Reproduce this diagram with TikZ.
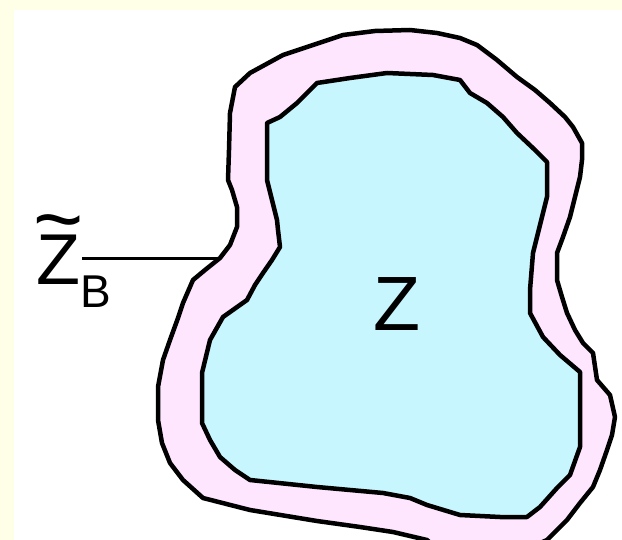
\documentclass[tikz,border=0pt]{standalone}
\usepackage{fontspec}
\setmainfont{Liberation Sans}
\definecolor{bgyellow}{RGB}{255,255,232}
\definecolor{bandpink}{RGB}{255,230,255}
\definecolor{zcyan}{RGB}{200,246,254}

\tikzset{%
  outer band/.style={
    draw=black,
    fill=bandpink,
    line width=4.5pt,
    line join=round
  },
  inner region/.style={
    draw=black,
    fill=zcyan,
    line width=4.5pt,
    line join=round
  },
  leader/.style={
    draw=black,
    line width=3pt
  },
}

\begin{document}
\begin{tikzpicture}[x=1pt,y=-1pt]
  \useasboundingbox (0,0) rectangle (622,540);
  \fill [bgyellow] (0,0) rectangle (622,540);
  \fill [white] (14,10) rectangle (622,540);
  \clip (0,0) rectangle (622,540);
  % outer band
  \draw [outer band] (410,30) -- (437,33) -- (460,38) -- (477,45) -- (497,60) -- (517,77)
    -- (535,90) -- (550,103) -- (565,117) -- (573,127) -- (582,143) -- (582,160)
    -- (580,177) -- (575,197) -- (570,217) -- (563,237) -- (557,253) -- (557,280)
    -- (562,297) -- (567,313) -- (575,330) -- (583,343) -- (593,353) -- (597,380)
    -- (610,395) -- (615,417) -- (612,435) -- (607,450) -- (600,470) -- (593,487)
    -- (580,503) -- (567,520) -- (547,540) -- (520,552) -- (440,552) -- (427,540)
    -- (393,532) -- (360,527) -- (317,521) -- (250,510) -- (203,498) -- (183,480)
    -- (170,463) -- (162,443) -- (158,420) -- (158,387) -- (163,360) -- (170,340)
    -- (178,318) -- (183,303) -- (193,280) -- (205,270) -- (220,258) -- (230,245)
    -- (237,227) -- (237,207) -- (232,190) -- (228,180) -- (229,150) -- (230,113)
    -- (235,87) -- (250,73) -- (283,55) -- (343,35) -- (375,31) -- cycle;
  % inner region Z
  \draw [inner region] (387,73) -- (433,75) -- (460,80) -- (470,93) -- (487,103) -- (503,117)
    -- (517,133) -- (535,150) -- (547,162) -- (547,197) -- (540,225) -- (533,253)
    -- (530,290) -- (530,313) -- (543,337) -- (560,355) -- (580,372) -- (580,447)
    -- (570,475) -- (557,488) -- (540,507) -- (527,517) -- (500,517) -- (460,515)
    -- (427,505) -- (410,498) -- (383,493) -- (317,487) -- (250,480) -- (235,470)
    -- (220,457) -- (210,440) -- (202,423) -- (202,373) -- (210,340) -- (223,317)
    -- (247,300) -- (255,285) -- (263,273) -- (272,260) -- (280,247) -- (278,230)
    -- (277,220) -- (272,200) -- (267,180) -- (267,150) -- (267,123) -- (280,117)
    -- (297,103) -- (317,83) -- (350,78) -- cycle;
  \node (Z) at (397.5,304.5) {\fontsize{77}{77}\selectfont Z};
  \node [inner sep=0pt, inner xsep=2pt, anchor=base west] (ZB) at (34,285)
    {\fontsize{72}{72}\selectfont\makebox[0pt][l]{\hspace{-3pt}\raisebox{36pt}{\fontsize{86}{86}\selectfont\char"7E}}Z\rlap{\raisebox{-23pt}{\fontsize{46}{46}\selectfont B}}};
  \coordinate (tip) at (221,259);
  \draw [leader] (ZB.east |- tip) -- (tip);
\end{tikzpicture}
\end{document}
